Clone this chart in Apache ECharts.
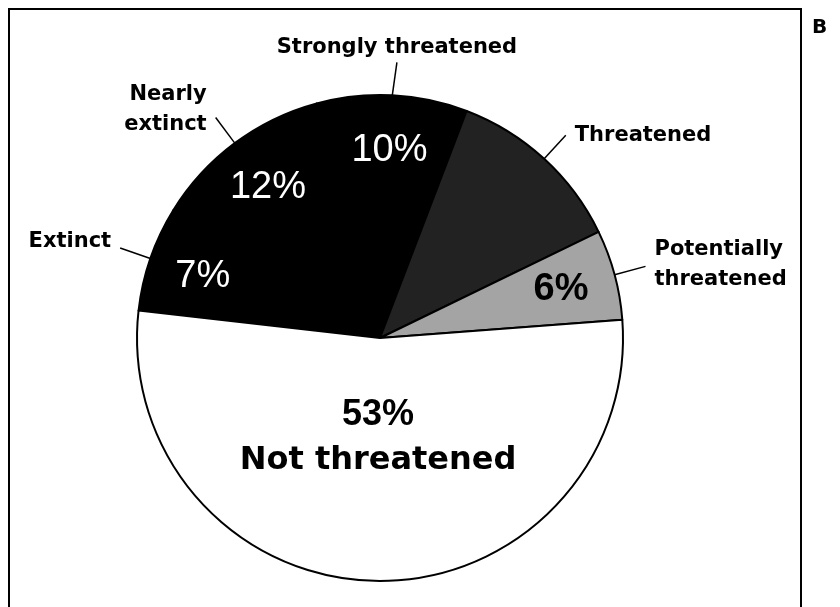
<!DOCTYPE html>
<html>
<head>
<meta charset="utf-8">
<script src="https://cdn.jsdelivr.net/npm/echarts@6/dist/echarts.min.js"></script>
<style>
  html, body { margin: 0; padding: 0; background: #fff; }
  #chart { width: 840px; height: 607px; }
</style>
</head>
<body>
<div id="chart"></div>
<script>
// slices, clockwise from the Extinct/Not threatened border
var categories = ['Extinct', 'Nearly extinct', 'Strongly threatened', 'Threatened', 'Potentially threatened', 'Not threatened'];
var shares = [7, 12, 10, 12, 6, 53];
var nameLabels = ['Extinct', 'Nearly\nextinct', 'Strongly threatened', 'Threatened', 'Potentially\nthreatened', ''];
var shareLabels = ['7%', '12%', '10%', '', '6%', '53%'];
var sliceColors = ['#000000', '#000000', '#000000', '#222222', '#a4a4a4', '#ffffff'];

var chart = echarts.init(document.getElementById('chart'));

var CX = 380, CY = 338, R = 243, START = 173.5;

// base pie with the outside names
var baseData = categories.map(function (c, i) {
  var has = nameLabels[i] !== '';
  return {
    name: c,
    value: shares[i],
    itemStyle: { color: sliceColors[i] },
    label: { show: has },
    labelLine: { show: has }
  };
});

// ring used only to place the white/black percentages
var ringData = categories.map(function (c, i) {
  var show = i < 5 && shareLabels[i] !== '';
  return {
    name: c,
    value: shares[i],
    label: {
      show: show,
      color: i === 4 ? '#000' : '#fff',
      fontWeight: i === 4 ? 'bold' : 'normal'
    }
  };
});

// inner pie used for the big 53% label
var innerData = categories.map(function (c, i) {
  return { name: c, value: shares[i], label: { show: i === 5 } };
});

var option = {
  animation: false,
  graphic: [
    {
      type: 'rect',
      shape: { x: 9, y: 9, width: 792, height: 640 },
      style: { fill: 'none', stroke: '#000', lineWidth: 2 }
    },
    {
      type: 'text',
      left: 812, top: 18,
      style: { text: 'B', font: 'bold 20px "DejaVu Sans"', fill: '#000' }
    }
  ],
  series: [
    {
      type: 'pie',
      center: [CX, CY],
      radius: R,
      startAngle: START,
      clockwise: true,
      avoidLabelOverlap: false,
      silent: true,
      itemStyle: { borderColor: '#000', borderWidth: 2 },
      label: {
        position: 'outside',
        formatter: function (p) { return nameLabels[p.dataIndex]; },
        fontFamily: 'DejaVu Sans',
        fontWeight: 'bold',
        fontSize: 21,
        lineHeight: 30,
        distanceToLabelLine: 9,
        color: '#000'
      },
      labelLine: {
        length: 32,
        length2: 0,
        lineStyle: { color: '#000', width: 1.5 }
      },
      labelLayout: function (p) {
        var pts = p.labelLinePoints;
        if (p.dataIndex === 2) {
          return { x: pts[1][0] + 3, y: pts[1][1] - 1, align: 'center', verticalAlign: 'bottom' };
        }
        if (p.dataIndex === 1) {
          return { dy: -8 };
        }
        if (p.dataIndex === 0) {
          return { dy: -6 };
        }
        if (p.dataIndex === 4) {
          return { dy: -2 };
        }
        return {};
      },
      data: baseData
    },
    {
      type: 'pie',
      center: [CX, CY],
      radius: [126, R],
      startAngle: START,
      clockwise: true,
      silent: true,
      avoidLabelOverlap: false,
      itemStyle: { color: 'transparent', borderWidth: 0 },
      label: {
        position: 'inside',
        formatter: function (p) { return shareLabels[p.dataIndex]; },
        fontFamily: 'Liberation Sans',
        fontSize: 38
      },
      labelLine: { show: false },
      data: ringData
    },
    {
      type: 'pie',
      center: [CX, CY],
      radius: [0, 194],
      startAngle: START,
      clockwise: true,
      silent: true,
      avoidLabelOverlap: false,
      itemStyle: { color: 'transparent', borderWidth: 0 },
      label: {
        position: 'inside',
        formatter: function (p) {
          return '{a|' + shareLabels[p.dataIndex] + '}\n{b|' + categories[p.dataIndex] + '}';
        },
        rich: {
          a: { fontFamily: 'Liberation Sans', fontWeight: 'bold', fontSize: 36, color: '#000', lineHeight: 46 },
          b: { fontFamily: 'DejaVu Sans', fontWeight: 'bold', fontSize: 32, color: '#000', lineHeight: 46 }
        }
      },
      labelLine: { show: false },
      data: innerData
    }
  ]
};

chart.setOption(option);
</script>
</body>
</html>
